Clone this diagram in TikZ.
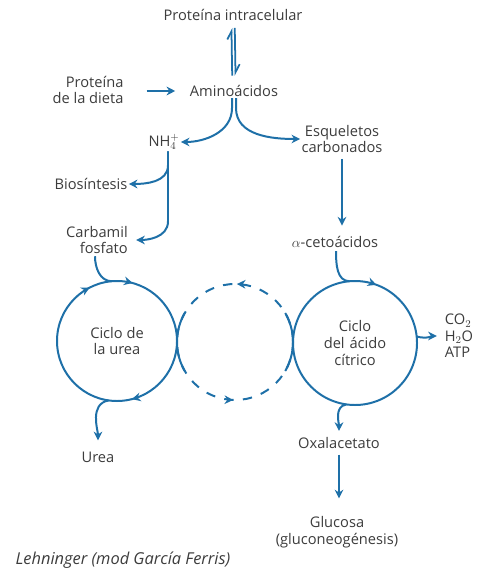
\documentclass[tikz,border=0pt]{standalone}
\usepackage{fontspec}
\setmainfont{Open Sans}
\usepackage{tikz}
\usetikzlibrary{arrows.meta, positioning, calc, decorations.markings}

\definecolor{flowblue}{RGB}{30,112,168}
\definecolor{txtgray}{RGB}{60,60,60}

\begin{document}
\begin{tikzpicture}[
    x=0.03cm, y=0.03cm,
    lbl/.style={text=txtgray, font=\fontsize{12.5}{14}\selectfont,
                align=center, inner sep=1pt},
    cyc/.style={circle, inner sep=0pt, outer sep=0pt, text=txtgray,
                font=\fontsize{12.5}{14.5}\selectfont, align=center},
    ring/.style={draw=flowblue, line width=1.7pt},
    flow/.style={draw=flowblue, line width=1.7pt, -{Stealth[length=2.6mm, width=2.6mm]}},
    harp/.style={draw=flowblue, line width=1.5pt, -{Straight Barb[left, length=2.4mm, width=2.6mm]}},
    tipmarks/.style={postaction={decorate}, decoration={markings, #1}},
]
\useasboundingbox (0,0) rectangle (491,-569);

% labels
\node[lbl] (prot) at (233,-15) {Proteína intracelular};
\node[lbl] (amino) at (234,-91) {Aminoácidos};
\node[lbl, align=right] (dieta) at (88,-90) {Proteína\\de la dieta};
\node[lbl] (nh) at (164,-142) {NH$_4^+$};
\node[lbl] (esq) at (342,-139) {Esqueletos\\carbonados};
\node[lbl] (bio) at (91,-184) {Biosíntesis};
\node[lbl, align=right] (carb) at (97,-240) {Carbamil\\fosfato};
\node[lbl] (ceto) at (335,-242) {$\alpha$-cetoácidos};
\node[lbl, align=left] (prod) at (459,-336) {CO$_2$\\H$_2$O\\ATP};
\node[lbl] (urea) at (98,-457) {Urea};
\node[lbl] (oxa) at (339,-443) {Oxalacetato};
\node[lbl] (glu) at (337,-532) {Glucosa\\(gluconeogénesis)};
\node[lbl, font=\fontsize{14}{16}\selectfont\itshape] (src) at (123,-560)
     {Lehninger (mod García Ferris)};

% cycles
\node[cyc, minimum size=3.6cm] (ucyc) at (117,-341) {Ciclo de\\la urea};
\node[cyc, minimum size=3.48cm] (mcyc) at (235,-342) {};
\node[cyc, minimum size=3.72cm, text width=2.4cm] (ccyc) at (355,-343)
     {Ciclo\\del ácido\\cítrico};

\draw[ring, tipmarks={mark=at position 0.325 with {\arrowreversed[flowblue]{Stealth[length=2.6mm, width=2.6mm]}},
                      mark=at position 0.208 with {\arrowreversed[flowblue]{Stealth[length=2.6mm, width=2.6mm]}},
                      mark=at position 0.79 with {\arrowreversed[flowblue]{Stealth[length=2.6mm, width=2.6mm]}}}]
  (ucyc.center) circle[radius=1.8cm];
\draw[ring, tipmarks={mark=at position 0.194 with {\arrowreversed[flowblue]{Stealth[length=2.6mm, width=2.6mm]}}}]
  (ccyc.center) circle[radius=1.86cm];
\draw[ring, dash pattern=on 8pt off 8pt,
      tipmarks={mark=at position 0.245 with {\arrow[flowblue]{Stealth[length=2.6mm, width=2.6mm]}},
                mark=at position 0.745 with {\arrow[flowblue]{Stealth[length=2.6mm, width=2.6mm]}}}]
  (mcyc.center) circle[radius=1.74cm];
\draw[ring] (mcyc.150) arc[start angle=150, end angle=210, radius=1.74cm];
\draw[ring] (mcyc.-30) arc[start angle=-30, end angle=30, radius=1.74cm];

% connectors
\draw[harp, shorten <=7pt, shorten >=5pt] ([xshift=-0.05cm]amino.north) -- ([xshift=-0.05cm]prot.south);
\draw[harp, shorten <=5pt, shorten >=7pt] ([xshift=0.05cm]prot.south) -- ([xshift=0.05cm]amino.north);
\draw[flow, shorten <=0.65cm, shorten >=0.4cm] (dieta.east |- amino) -- (amino.west);
\draw[flow] ([xshift=-0.06cm]amino.south) -- ++(0,-10) to[out=-90, in=0] (nh.east);
\draw[flow] ([xshift=0.06cm]amino.south) -- ++(0,-10) to[out=-90, in=180] (esq.west);
\draw[flow, shorten <=4pt, shorten >=8pt] (esq.south) -- (esq.south |- ceto.north);
\draw[flow] ($(nh.south)+(4,0)$) -- ++(0,-14) to[out=-90, in=0] (bio.east);
\draw[flow, shorten >=6pt] ($(nh.south)+(4,0)$) -- ++(0,-70) to[out=-90, in=0] (carb.east);
\draw[ring] ($(carb.south)+(-2,-1)$) to[out=-90, in=180] (ucyc.95);
\draw[ring] ($(ceto.south)+(1,-2)$) to[out=-90, in=180] (ccyc.95);
\draw[flow, shorten >=0.3cm] (ucyc.-98) to[out=190, in=90] (urea);
\draw[flow, shorten >=0.15cm] (ccyc.-98) to[out=190, in=90] (oxa);
\draw[flow, shorten >=0.2cm] (ccyc.6) to[out=-15, in=180] (prod.west);
\draw[flow, shorten <=4pt, shorten >=0.5cm] (oxa.south) -- (oxa.south |- glu.north);
\end{tikzpicture}
\end{document}
